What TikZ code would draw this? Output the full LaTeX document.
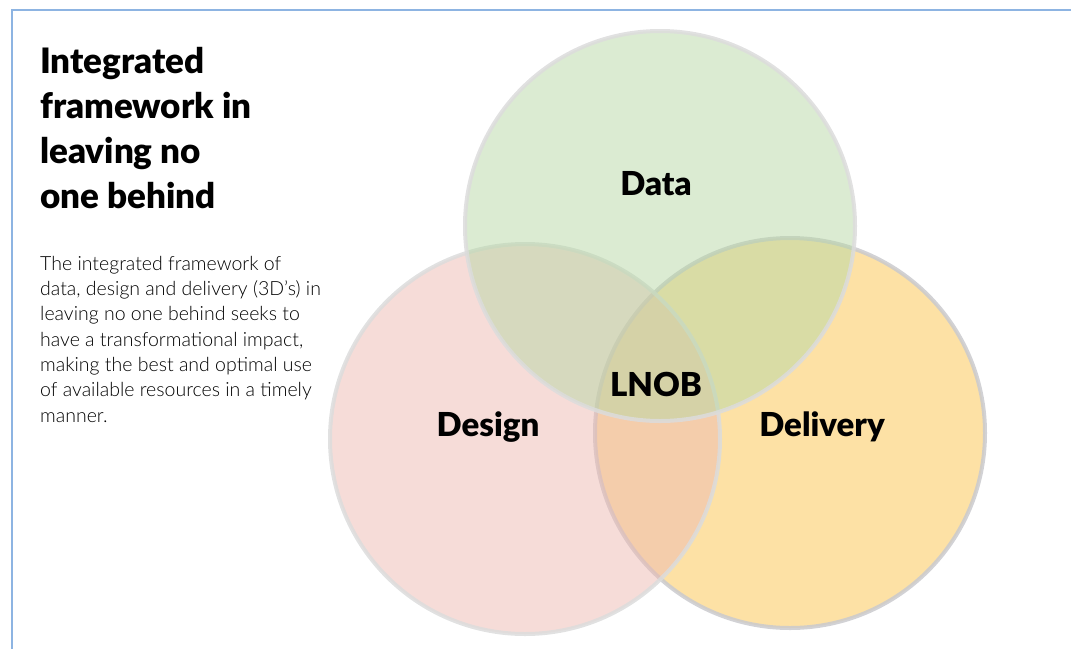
\documentclass[tikz,border=0pt]{standalone}
\usepackage{fontspec}
\setmainfont{Lato}
\newfontfamily\heavyfont{Lato Black}
\newfontfamily\lightfont{Lato Light}
\definecolor{frameblue}{HTML}{8DB4E2}
\definecolor{datagreen}{RGB}{183,216,165}
\definecolor{designpink}{RGB}{237,185,177}
\definecolor{deliveryorange}{RGB}{251,195,75}
\definecolor{ringgray}{HTML}{DCDCDC}
\definecolor{ringdark}{HTML}{CACACE}
\definecolor{bodytext}{HTML}{000000}
\begin{document}
\begin{tikzpicture}[x=1pt,y=-1pt,
  setcircle/.style={circle, minimum size=390pt, inner sep=0pt, line width=4pt, fill opacity=0.5, draw opacity=0.85},
  setlabel/.style={font=\heavyfont\fontsize{33}{40}\selectfont, text=black, inner sep=0pt, anchor=base},
  frameline/.style={draw=frameblue, line width=2pt}]
\useasboundingbox (0,0) rectangle (1071,649);
\coordinate (ftop) at (12,10);
\coordinate (fright) at (1071,10);
\coordinate (fbottom) at (12,649);
\draw[frameline] (fright) -- (ftop) -- (fbottom);
% circles
\node[setcircle, draw=ringdark, fill=deliveryorange] (delivery) at (790,433) {};
\node[setcircle, draw=ringgray, fill=designpink] (design) at (525,439) {};
\node[setcircle, draw=ringgray, fill=datagreen] (data) at (660,226) {};
% labels
\node[setlabel] (datalbl) at (656,195) {Data};
\node[setlabel] (designlbl) at (488,436) {Design};
\node[setlabel] (deliverylbl) at (822,436) {Delivery};
\node[setlabel] (lnoblbl) at (656,396) {LNOB};
% title
\node[anchor=base west, inner sep=0pt, align=left, font=\heavyfont\fontsize{35}{45}\selectfont] (title) at (40,208)
  {Integrated\\framework in\\leaving no\\one behind};
\node[anchor=base west, inner sep=0pt, align=left, text=bodytext, font=\lightfont\fontsize{19.5}{25.3}\selectfont] (body) at (40,422)
  {The integrated framework of\\data, design and delivery (3D’s) in\\leaving no one behind seeks to\\have a transformational impact,\\making the best and optimal use\\of available resources in a timely\\manner.};
\end{tikzpicture}
\end{document}
